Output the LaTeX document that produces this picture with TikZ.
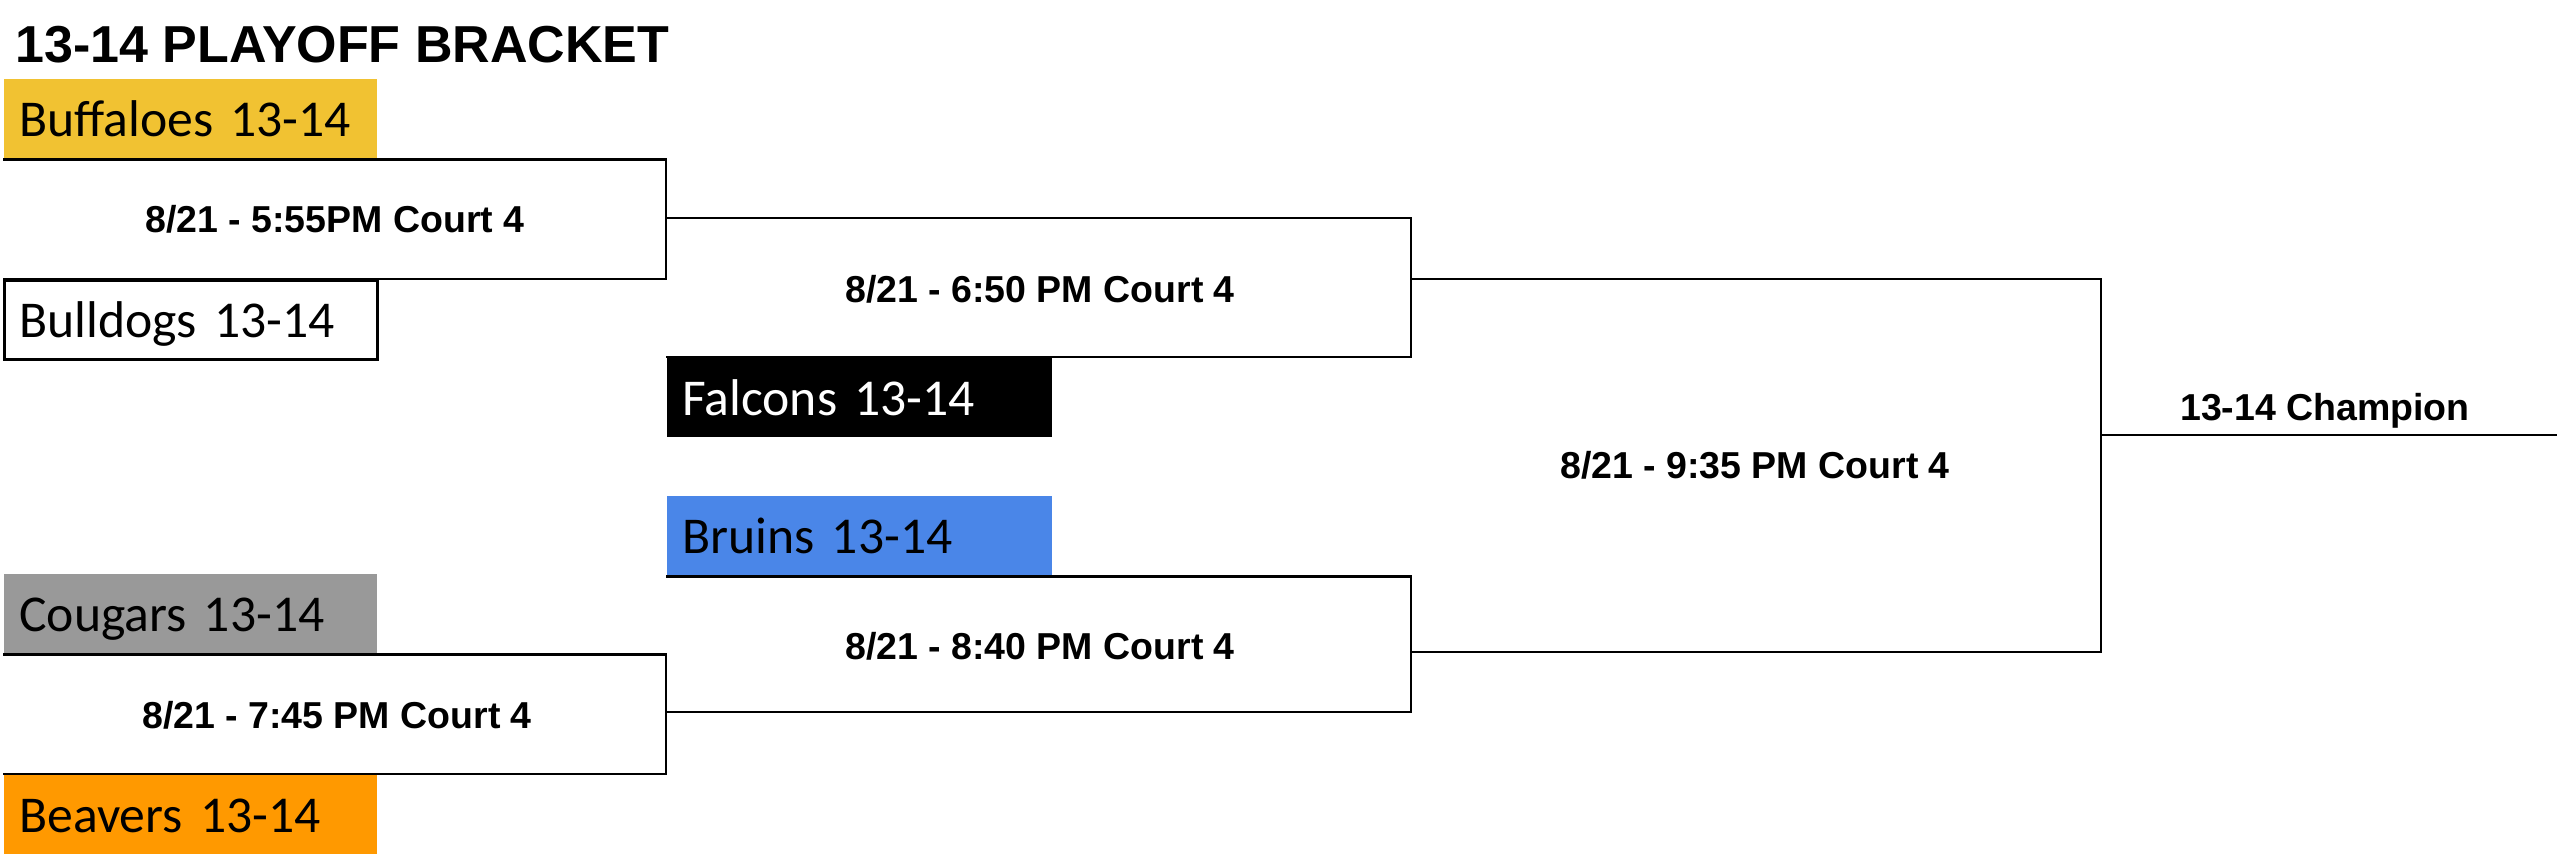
\documentclass[tikz,border=0pt]{standalone}
\usepackage{fontspec}
\setmainfont{Liberation Sans}
\newfontfamily\teamfont{Carlito}

\definecolor{buffgold}{HTML}{F1C232}
\definecolor{bruinblue}{HTML}{4A86E8}
\definecolor{cougargray}{HTML}{999999}
\definecolor{beaverorange}{HTML}{FF9900}

\tikzset{every picture/.style={line width=0.8pt}}
\tikzset{
  teamleft/.style={anchor=north west, inner xsep=4.5pt, inner ysep=0pt, text width=102.9pt, align=left,
    text height=17.1pt, text depth=6.6pt, font=\teamfont\fontsize{15.5}{18}\selectfont},
  teammid/.style={teamleft, text width=106.5pt},
  gamelbl/.style={anchor=base, inner sep=0.75pt, font=\fontsize{11.25}{13}\selectfont\bfseries},
  bline/.style={draw=black, line width=0.8pt},
}

\begin{document}
\begin{tikzpicture}[x=0.3pt,y=0.3pt,yscale=-1,xscale=1]
	\useasboundingbox (0,0) rectangle (2560,854);
	% Text Node
	\node [anchor=base west, inner sep=0pt, font=\fontsize{15.6}{18}\selectfont\bfseries] (title) at (14,62) {13-14 PLAYOFF BRACKET};
	%Shape: Rectangle (teams)
	\node [teamleft, fill=buffgold] (buffaloes) at (3,78) {Buffaloes 13-14};
	\node [teamleft, fill=white, draw=black] (bulldogs) at (3,279) {Bulldogs 13-14};
	\node [teammid, fill=black, text=white] (falcons) at (666,357) {Falcons 13-14};
	\node [teammid, fill=bruinblue] (bruins) at (666,495) {Bruins 13-14};
	\node [teamleft, fill=cougargray] (cougars) at (3,573) {Cougars 13-14};
	\node [teamleft, fill=beaverorange] (beavers) at (3,774) {Beavers 13-14};
	% winners
	\coordinate (w1) at (666,218);
	\coordinate (w4) at (666,712);
	\coordinate (w2) at (1411,279);
	\coordinate (w3) at (1411,652);
	\coordinate (wf) at (2101,435);
	\coordinate (champend) at (2557,435);
	%Straight Lines (brackets)
	\draw [bline] (buffaloes.south west) -| (w1) |- (bulldogs.north west);
	\draw [bline] (cougars.south west) -| (w4) |- (beavers.north west);
	\draw [bline] (w1) -| (w2) |- (falcons.north west);
	\draw [bline] (bruins.south west) -| (w3) |- (w4);
	\draw [bline] (w2) -| (wf) |- (w3);
	\draw [bline] (wf) -- (champend);
	% Text Node (games)
	\node [gamelbl] (game1) at (335,232) {8/21 - 5:55PM Court 4};
	\node [gamelbl] (game2) at (1040,302) {8/21 - 6:50 PM Court 4};
	\node [gamelbl] (game3) at (1040,659) {8/21 - 8:40 PM Court 4};
	\node [gamelbl] (game4) at (337,728) {8/21 - 7:45 PM Court 4};
	\node [gamelbl] (final) at (1755,478) {8/21 - 9:35 PM Court 4};
	\node [gamelbl] (champ) at (2325,420) {13-14 Champion};
\end{tikzpicture}
\end{document}
